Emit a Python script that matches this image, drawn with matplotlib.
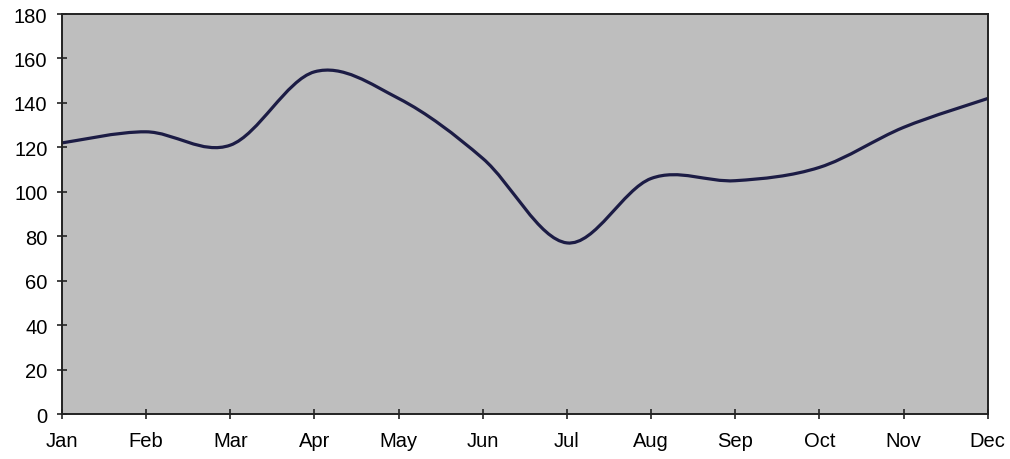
import matplotlib
matplotlib.use("Agg")
import matplotlib.pyplot as plt
from matplotlib.path import Path
from matplotlib.patches import PathPatch
import numpy as np

months = ["Jan", "Feb", "Mar", "Apr", "May", "Jun", "Jul", "Aug", "Sep", "Oct", "Nov", "Dec"]
values = [122, 127, 121, 154, 142, 115, 77, 106, 105, 111, 129, 142]
yticks = [0, 20, 40, 60, 80, 100, 120, 140, 160, 180]

plt.rcParams['font.family'] = ['Liberation Sans', 'DejaVu Sans']

fig = plt.figure(figsize=(10.1, 4.6), dpi=100)
ax = fig.add_axes([0.0614, 0.0978, 0.9166, 0.8695])
ax.set_facecolor('#bebebe')

x = np.arange(len(values), dtype=float)
y = np.array(values, dtype=float)
pts = np.column_stack([x, y])
# Excel-style smoothed line (cubic Bezier with Catmull-Rom control points)
verts = [tuple(pts[0])]
codes = [Path.MOVETO]
n = len(pts)
for i in range(n - 1):
    p0 = pts[i - 1] if i > 0 else pts[i]
    p1 = pts[i]
    p2 = pts[i + 1]
    p3 = pts[i + 2] if i + 2 < n else pts[i + 1]
    c1 = p1 + (p2 - p0) / 6.0
    c2 = p2 - (p3 - p1) / 6.0
    verts += [tuple(c1), tuple(c2), tuple(p2)]
    codes += [Path.CURVE4] * 3
patch = PathPatch(Path(verts, codes), facecolor='none', edgecolor='#1c1c45', lw=2.3, capstyle='round', joinstyle='round')
ax.add_patch(patch)

ax.set_xlim(0, len(months) - 1)
ax.set_ylim(0, 180)
ax.set_xticks(x)
ax.set_xticklabels(months)
ax.set_yticks(yticks)
ax.tick_params(axis='both', direction='inout', length=7, width=1.2, colors='#222222', labelsize=14.5, labelcolor='black')
ax.tick_params(axis='x', pad=9)
ax.tick_params(axis='y', pad=7)
for s in ax.spines.values():
    s.set_color('#222222')
    s.set_linewidth(1.4)

fig.savefig("out.png", dpi=100, facecolor='white')
